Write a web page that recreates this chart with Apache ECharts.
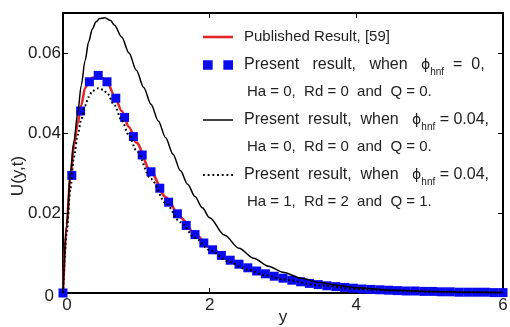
<!DOCTYPE html>
<html>
<head>
<meta charset="utf-8">
<script src="https://cdn.jsdelivr.net/npm/echarts@6/dist/echarts.min.js"></script>
<style>html,body{margin:0;padding:0;background:#fff;}#c{width:510px;height:327px;}</style>
</head>
<body>
<div id="c"></div>
<script>
// ---- data ----
const xTicks = [0, 2, 4, 6];
const yTicks = [0, 0.02, 0.04, 0.06];

const markerX = [0, 0.12, 0.24, 0.36, 0.48, 0.60, 0.72, 0.84, 0.96, 1.08, 1.20, 1.32, 1.44, 1.56, 1.68, 1.80, 1.92, 2.04, 2.16, 2.28, 2.40, 2.52, 2.64, 2.76, 2.88, 3.00, 3.12, 3.24, 3.36, 3.48, 3.60, 3.72, 3.84, 3.96, 4.08, 4.20, 4.32, 4.44, 4.56, 4.68, 4.80, 4.92, 5.04, 5.16, 5.28, 5.40, 5.52, 5.64, 5.76, 5.88, 6.00];
const markerY = [0, 0.0294, 0.0455, 0.0528, 0.0544, 0.0528, 0.0487, 0.0439, 0.0391, 0.0345, 0.0303, 0.0262, 0.0227, 0.0198, 0.0169, 0.0146, 0.0125, 0.0108, 0.0094, 0.0082, 0.0072, 0.0063, 0.0055, 0.0048, 0.0042, 0.0037, 0.0032, 0.0028, 0.0024, 0.0021, 0.0018, 0.0016, 0.0014, 0.0012, 0.0010, 0.0009, 0.0008, 0.0007, 0.0006, 0.0005, 0.0005, 0.0004, 0.0004, 0.0003, 0.0003, 0.0002, 0.0002, 0.0002, 0.0002, 0.0001, 0.0001];

const redX = [0, 0.05, 0.1, 0.15, 0.2, 0.25, 0.3, 0.35, 0.4, 0.48, 0.55, 0.6, 0.7, 0.8, 0.9, 1.0, 1.2, 1.4, 1.6, 1.8, 2.0, 2.25, 2.5, 2.75, 3.0, 3.5, 4.0, 4.5, 5.0, 5.5, 6.0];
const redY = [0, 0.017, 0.029, 0.037, 0.0425, 0.047, 0.0512, 0.0530, 0.0538, 0.0541, 0.0536, 0.0528, 0.0494, 0.0455, 0.0415, 0.0376, 0.0302, 0.0240, 0.0189, 0.0148, 0.0114, 0.0084, 0.0063, 0.0048, 0.0037, 0.0021, 0.0011, 0.0007, 0.0004, 0.0002, 0.0001];

const dotX = [0, 0.05, 0.1, 0.15, 0.2, 0.25, 0.3, 0.35, 0.4, 0.48, 0.55, 0.6, 0.7, 0.8, 0.9, 1.0, 1.2, 1.4, 1.6, 1.8, 2.0, 2.25, 2.5, 2.75, 3.0, 3.5, 4.0, 4.5, 5.0, 5.5, 6.0];
const dotY = [0, 0.015, 0.026, 0.034, 0.0395, 0.0435, 0.0468, 0.0490, 0.0505, 0.0512, 0.0508, 0.0500, 0.0470, 0.0432, 0.0394, 0.0356, 0.0285, 0.0225, 0.0177, 0.0138, 0.0107, 0.0079, 0.0059, 0.0045, 0.0034, 0.0019, 0.0010, 0.0006, 0.0003, 0.0002, 0.0001];

const blackX = [0, 0.05, 0.1, 0.15, 0.2, 0.25, 0.3, 0.35, 0.4, 0.45, 0.5, 0.57, 0.65, 0.7, 0.8, 0.9, 1.0, 1.1, 1.2, 1.3, 1.4, 1.5, 1.6, 1.7, 1.8, 1.9, 2.0, 2.2, 2.4, 2.6, 2.8, 3.0, 3.25, 3.5, 3.75, 4.0, 4.5, 5.0, 5.5, 6.0];
const blackY = [0, 0.017, 0.030, 0.038, 0.045, 0.052, 0.0580, 0.0628, 0.0660, 0.0678, 0.0686, 0.0688, 0.0681, 0.0670, 0.0640, 0.0600, 0.0557, 0.0514, 0.0472, 0.0430, 0.0388, 0.0347, 0.0306, 0.0272, 0.0241, 0.0213, 0.0188, 0.0145, 0.0112, 0.0087, 0.0067, 0.0052, 0.0037, 0.0026, 0.0019, 0.0013, 0.0007, 0.0004, 0.0002, 0.0001];

const seriesNames = ['Published Result, [59]', 'Present result, phi=0', 'Present result, phi=0.04 A', 'Present result, phi=0.04 B'];
const legendFirstLines = [
  ' ',
  'Present   result,   when   {p|ϕ}{s|hnf}  =  0,',
  'Present  result,  when   {p|ϕ}{s|hnf} = 0.04,',
  'Present  result,  when   {p|ϕ}{s|hnf} = 0.04,'
];
// text lines drawn as title components (last one is the first legend entry's label)
const extraLines = [
  'Ha = 0,  Rd = 0  and  Q = 0.',
  'Ha = 0,  Rd = 0  and  Q = 0.',
  'Ha = 1,  Rd = 2  and  Q = 1.',
  'Published Result, [59]'
];

// ---- chart ----
const zip = (xs, ys) => xs.map((x, i) => [x, ys[i]]);
const FONT = '"Liberation Sans", Arial, Helvetica, sans-serif';
const TXT = '#222';

const legendCenters = [37, 65, 120, 175];
const extraCenters = [92, 147, 202, 37];
const extraLefts = [247, 247, 247, 244];
const icons = [
  'path://M0,0h30v2.6h-30z',
  'path://M0,0h9v9h-9z M19,0h9v9h-9z',
  'path://M0,0h30v1.5h-30z',
  'path://M0,0h1.8v1.8h-1.8z M4.6,0h1.8v1.8h-1.8z M9.2,0h1.8v1.8h-1.8z M13.8,0h1.8v1.8h-1.8z M18.4,0h1.8v1.8h-1.8z M23,0h1.8v1.8h-1.8z M27.6,0h1.8v1.8h-1.8z'
];
const iconColors = ['#e3262a', '#0a0af0', '#000', '#000'];

const legends = seriesNames.map((nm, i) => ({
  left: 203,
  top: legendCenters[i] - 9,
  padding: 0,
  orient: 'vertical',
  itemWidth: 30,
  itemHeight: 18,
  selectedMode: false,
  data: [{name: nm, icon: icons[i], itemStyle: {color: iconColors[i], borderWidth: 0}}],
  formatter: () => legendFirstLines[i],
  textStyle: {
    fontFamily: FONT, fontSize: 16, color: TXT, lineHeight: 18, padding: [0, 0, 0, 6],
    rich: {
      p: {fontFamily: '"DejaVu Sans", sans-serif', fontSize: 14, color: TXT, lineHeight: 18},
      s: {fontFamily: FONT, fontSize: 10, color: TXT, lineHeight: 18, verticalAlign: 'bottom', padding: [0, 0, -3, 0]}
    }
  }
}));

const titles = extraLines.map((t, i) => ({
  text: t,
  left: extraLefts[i],
  top: extraCenters[i] - 9,
  padding: 0,
  textStyle: {fontFamily: FONT, fontSize: 15, fontWeight: 'normal', color: TXT, lineHeight: 18, width: 220, overflow: 'none'}
}));

const axisLine = {show: true, onZero: false, lineStyle: {color: '#000', width: 2}};
const axisTick = {show: true, inside: true, length: 5, lineStyle: {color: '#000', width: 1}};

const yFmt = v => {
  if (Math.abs(v) < 1e-12) return '{z|0}';
  const ok = yTicks.some(t => Math.abs(t - v) < 1e-9);
  return ok ? v.toFixed(2) : '';
};
const xFmt = v => {
  if (!xTicks.includes(v)) return '';
  return v === 0 ? '{z|0}' : String(v);
};

const option = {
  backgroundColor: '#fff',
  animation: false,
  title: titles,
  legend: legends,
  grid: {left: 63, right: 7, top: 13, bottom: 34, containLabel: false, outerBoundsMode: 'none'},
  xAxis: [
    {
      type: 'value', min: 0, max: 6, interval: 2, position: 'bottom',
      name: 'y', nameLocation: 'middle', nameGap: 16, nameMoveOverlap: false,
      nameTextStyle: {fontFamily: FONT, fontSize: 17, color: TXT},
      axisLine: axisLine, axisTick: axisTick, splitLine: {show: false},
      axisLabel: {fontFamily: FONT, fontSize: 17, color: TXT, margin: 4, formatter: xFmt,
        rich: {z: {fontFamily: FONT, fontSize: 17, color: TXT, padding: [0, 0, 0, 8]}}}
    },
    {
      type: 'value', min: 0, max: 6, interval: 2, position: 'top',
      axisLine: axisLine, axisTick: axisTick, axisLabel: {show: false}, splitLine: {show: false}
    }
  ],
  yAxis: [
    {
      type: 'value', min: 0, max: 0.07, interval: 0.02, position: 'left',
      name: 'U(y,t)', nameLocation: 'middle', nameGap: 36, nameRotate: 90, nameMoveOverlap: false,
      nameTextStyle: {fontFamily: FONT, fontSize: 17, color: TXT, padding: [0, 46, 0, 0]},
      axisLine: axisLine, axisTick: axisTick, splitLine: {show: false},
      axisLabel: {fontFamily: FONT, fontSize: 17, color: TXT, margin: 2, formatter: yFmt,
        rich: {z: {fontFamily: FONT, fontSize: 17, color: TXT, padding: [6, 7, 0, 0]}}}
    },
    {
      type: 'value', min: 0, max: 0.07, interval: 0.02, position: 'right',
      axisLine: axisLine, axisTick: axisTick, axisLabel: {show: false}, splitLine: {show: false}
    }
  ],
  series: [
    {
      name: seriesNames[0], type: 'line', data: zip(redX, redY),
      showSymbol: false, symbol: 'none', smooth: 0.3, smoothMonotone: 'x',
      lineStyle: {color: '#e3262a', width: 2.6}, itemStyle: {color: '#e3262a'}, z: 2
    },
    {
      name: seriesNames[1], type: 'scatter', data: zip(markerX, markerY),
      symbol: 'rect', symbolSize: 9, itemStyle: {color: '#0a0af0', opacity: 1}, z: 3
    },
    {
      name: seriesNames[2], type: 'line', data: zip(blackX, blackY),
      showSymbol: false, symbol: 'none', smooth: 0.3, smoothMonotone: 'x',
      lineStyle: {color: '#000', width: 1.5}, itemStyle: {color: '#000'}, z: 4
    },
    {
      name: seriesNames[3], type: 'line', data: zip(dotX, dotY),
      showSymbol: false, symbol: 'none', smooth: 0.3, smoothMonotone: 'x',
      lineStyle: {color: '#000', width: 2, type: [1.8, 2.6]}, itemStyle: {color: '#000'}, z: 4
    }
  ]
};

const chart = echarts.init(document.getElementById('c'), null, {renderer: 'canvas'});
chart.setOption(option);
</script>
</body>
</html>
